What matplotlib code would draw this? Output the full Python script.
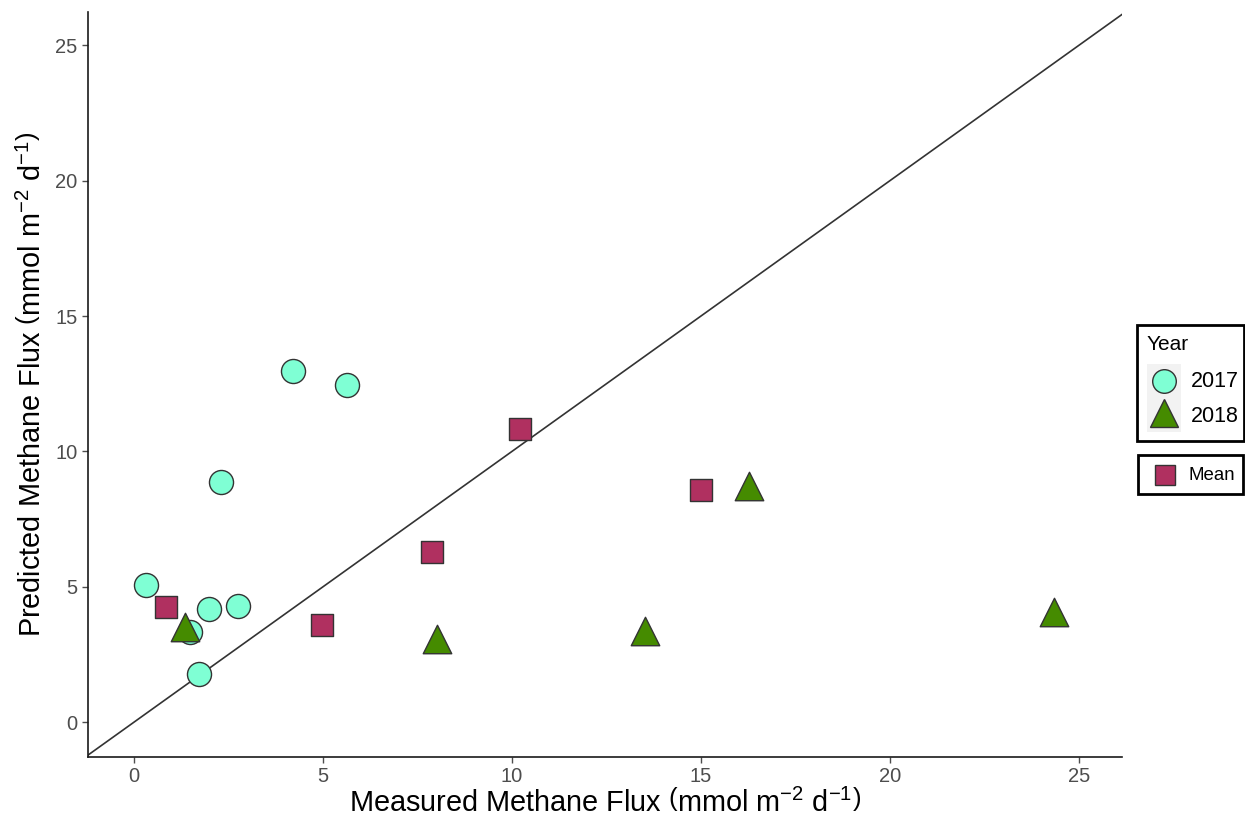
import matplotlib
matplotlib.use("Agg")
import matplotlib.pyplot as plt
from matplotlib.lines import Line2D
from matplotlib.patches import Rectangle

plt.rcParams['font.family'] = ['Liberation Sans', 'DejaVu Sans']
plt.rcParams['mathtext.fontset'] = 'custom'
plt.rcParams['mathtext.rm'] = 'Liberation Sans'
plt.rcParams['mathtext.it'] = 'Liberation Sans:italic'

# Sites sampled in 2017
meas_2017 = [0.32, 1.48, 1.72, 1.98, 2.75, 2.30, 4.21, 5.63]
pred_2017 = [5.06, 3.32, 1.77, 4.17, 4.29, 8.87, 12.97, 12.45]

# Sites sampled in 2018
meas_2018 = [1.35, 8.02, 13.52, 16.27, 24.34]
pred_2018 = [3.50, 3.07, 3.36, 8.72, 4.06]

# Site means across years
meas_mean = [0.85, 4.97, 7.88, 10.21, 15.00]
pred_mean = [4.25, 3.58, 6.28, 10.82, 8.57]

ticks = [0, 5, 10, 15, 20, 25]

W, H = 1245, 823
fig = plt.figure(figsize=(W / 100, H / 100), dpi=100)
ax = fig.add_axes([88 / W, 1 - 757 / H, (1122 - 88) / W, (757 - 12) / H])

ax.axline((0, 0), slope=1, color='#333333', lw=1.2, zorder=1)

edge = '#333333'
ax.scatter(meas_2017, pred_2017, s=300, marker='o', facecolor='#7FFFD4',
           edgecolor=edge, linewidths=1.0, zorder=3)
ax.scatter(meas_2018, pred_2018, s=420, marker='^', facecolor='#458B00',
           edgecolor=edge, linewidths=1.0, zorder=4)
ax.scatter(meas_mean, pred_mean, s=250, marker='s', facecolor='#B03060',
           edgecolor=edge, linewidths=1.0, zorder=2)

ax.set_xlim(-1.22, 26.14)
ax.set_ylim(-1.29, 26.23)
ax.set_xticks(ticks)
ax.set_yticks(ticks)
ax.set_xticklabels([str(t) for t in ticks])
ax.set_yticklabels([str(t) for t in ticks])
ax.tick_params(axis='both', colors='#4D4D4D', labelsize=14.5, length=4, width=1)
for lab in ax.get_xticklabels() + ax.get_yticklabels():
    lab.set_color('#4D4D4D')
for side in ('top', 'right'):
    ax.spines[side].set_visible(False)
for side in ('left', 'bottom'):
    ax.spines[side].set_color('#1a1a1a')
    ax.spines[side].set_linewidth(1.2)

ax.set_xlabel(r'Measured Methane Flux $\left(\mathrm{mmol\ m^{-2}\ d^{-1}}\right)$',
              fontsize=20.8, color='black', labelpad=2)
ax.set_ylabel(r'Predicted Methane Flux $\left(\mathrm{mmol\ m^{-2}\ d^{-1}}\right)$',
              fontsize=20.8, color='black', labelpad=6)


def fx(px):
    return px / W


def fy(py):
    return 1 - py / H


# Year legend box
fig.patches.append(Rectangle((fx(1137), fy(441)), (1244 - 1137) / W, (441 - 325) / H,
                             transform=fig.transFigure, facecolor='white',
                             edgecolor='black', lw=2.0, zorder=1))
for cy in (381, 415):
    fig.patches.append(Rectangle((fx(1147), fy(cy + 17)), 34 / W, 34 / H,
                                 transform=fig.transFigure, facecolor='#F2F2F2',
                                 edgecolor='none', zorder=2))
fig.text(fx(1147), fy(344), 'Year', fontsize=15, va='center', ha='left', zorder=3)
fig.lines.append(Line2D([fx(1164)], [fy(381)], transform=fig.transFigure, marker='o',
                        markersize=17, markerfacecolor='#7FFFD4',
                        markeredgecolor=edge, markeredgewidth=1.0, zorder=3))
fig.lines.append(Line2D([fx(1164)], [fy(413)], transform=fig.transFigure, marker='^',
                        markersize=20, markerfacecolor='#458B00',
                        markeredgecolor=edge, markeredgewidth=1.0, zorder=3))
fig.text(fx(1191), fy(381), '2017', fontsize=15.5, va='center', ha='left', zorder=3)
fig.text(fx(1191), fy(416), '2018', fontsize=15.5, va='center', ha='left', zorder=3)

# Mean legend box
fig.patches.append(Rectangle((fx(1138), fy(494)), (1243 - 1138) / W, (494 - 455) / H,
                             transform=fig.transFigure, facecolor='white',
                             edgecolor='black', lw=2.0, zorder=1))
fig.lines.append(Line2D([fx(1165)], [fy(475)], transform=fig.transFigure, marker='s',
                        markersize=14, markerfacecolor='#B03060',
                        markeredgecolor=edge, markeredgewidth=1.0, zorder=3))
fig.text(fx(1188), fy(475), 'Mean', fontsize=13.4, va='center', ha='left', zorder=3)

fig.savefig('out.png', dpi=100)
